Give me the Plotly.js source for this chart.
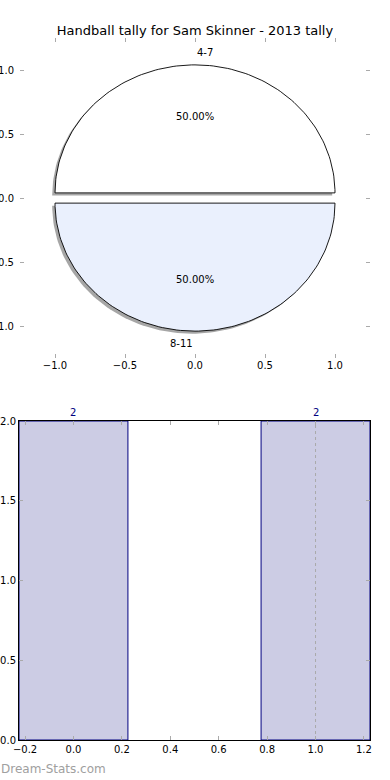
<!DOCTYPE html>
<html><head><meta charset="utf-8">
<script src="https://cdn.plot.ly/plotly-3.0.1.min.js"></script>
<style>html,body{margin:0;padding:0;background:#fff}#chart{width:390px;height:780px}</style>
</head><body><div id="chart"></div>
<script>
// ---- data ----
const title = "Handball tally for Sam Skinner - 2013 tally";
const pieLabels = ["4-7", "8-11"];
const pieValues = [2, 2];
const pieColors = ["#ffffff", "#eaf0fd"];
const pieExplode = [0.04, 0.04];
const barX = [0, 1];
const barY = [2, 2];
const barText = ["2", "2"];
const refLineX = [1.0];
const watermark = "Dream-Stats.com";

const F = "DejaVu Sans, sans-serif";
const traces = [];
const annotations = [];
const total = pieValues.reduce((a,b)=>a+b,0);
function slicePts(t1, t2, cx, cy) {
  const xs=[cx], ys=[cy];
  const n=120;
  for (let k=0;k<=n;k++){const a=(t1+(t2-t1)*k/n)*Math.PI/180; xs.push(cx+Math.cos(a)); ys.push(cy+Math.sin(a));}
  xs.push(cx); ys.push(cy);
  return [xs, ys];
}
let cum = 0;
const sliceTraces = [], shadowTraces = [];
pieValues.forEach((v,i)=>{
  const t1 = cum/total*360, t2 = (cum+v)/total*360; cum += v;
  const mid = (t1+t2)/2*Math.PI/180;
  const cx = pieExplode[i]*Math.cos(mid), cy = pieExplode[i]*Math.sin(mid);
  const [xs,ys] = slicePts(t1,t2,cx,cy);
  shadowTraces.push({type:'scatter',mode:'lines',x:xs.map(x=>x-0.02),y:ys.map(y=>y-0.02),fill:'toself',
    fillcolor:'rgba(77,77,77,0.5)',line:{width:0},xaxis:'x',yaxis:'y',hoverinfo:'skip',showlegend:false});
  sliceTraces.push({type:'scatter',mode:'lines',x:xs,y:ys,fill:'toself',fillcolor:pieColors[i],
    line:{color:'#000',width:0.9},xaxis:'x',yaxis:'y',hoverinfo:'skip',showlegend:false});
  const lx = cx + 1.1*Math.cos(mid), ly = cy + 1.1*Math.sin(mid);
  annotations.push({x:lx,y:ly,xref:'x',yref:'y',text:pieLabels[i],showarrow:false,
    xanchor: Math.cos(mid)>=0 ? 'left':'right', yanchor:'middle', font:{family:F,size:10,color:'#000'}});
  const px = cx + 0.6*Math.cos(mid), py = cy + 0.6*Math.sin(mid);
  annotations.push({x:px,y:py,xref:'x',yref:'y',text:(v/total*100).toFixed(2)+'%',showarrow:false,
    xanchor:'center',yanchor:'middle',font:{family:F,size:10,color:'#000'}});
});
traces.push(...shadowTraces, ...sliceTraces);

traces.push({type:'bar',x:barX,y:barY,width:0.45,xaxis:'x2',yaxis:'y2',
  marker:{color:'#ccccE4',line:{color:'#000080',width:1}},hoverinfo:'skip',showlegend:false});
barX.forEach((x,i)=>{
  annotations.push({x:x,y:barY[i],xref:'x2',yref:'y2',text:barText[i],showarrow:false,
    yanchor:'bottom',yshift:1,font:{family:F,size:10,color:'#000080'}});
});
annotations.push({x:0,y:0,xref:'paper',yref:'paper',xanchor:'left',yanchor:'bottom',yshift:2,xshift:-1,
  text:watermark,showarrow:false,font:{family:F,size:12,color:'#a0a0a0'}});

const shapes = refLineX.map(x=>({type:'line',xref:'x2',yref:'y2 domain',x0:x,x1:x,y0:0,y1:1,
  line:{color:'#aaaaaa',width:1,dash:'dot'},layer:'above'}));

const tickCommon = {ticks:'inside',ticklen:4,tickcolor:'#aaaaaa',tickwidth:1,showgrid:false,zeroline:false,
  tickfont:{family:F,size:10,color:'#000'},automargin:false};
const W=390,H=780;
const layout = {
  width:W,height:H,margin:{l:0,r:0,t:0,b:0},paper_bgcolor:'#fff',plot_bgcolor:'rgba(0,0,0,0)',
  showlegend:false,
  title:{text:title,font:{family:F,size:13,color:'#000'},x:0.5,xanchor:'center',y:1-30/H,yanchor:'middle'},
  xaxis:Object.assign({},tickCommon,{domain:[20/W,370/W],range:[-1.25,1.25],tickvals:[-1,-0.5,0,0.5,1],
    tickformat:'.1f',showline:false,mirror:'ticks',anchor:'y'}),
  yaxis:Object.assign({},tickCommon,{domain:[1-358/H,1-38/H],range:[-1.25,1.25],tickvals:[-1,-0.5,0,0.5,1],
    tickformat:'.1f',showline:false,mirror:'ticks',anchor:'x',ticklabelstandoff:5}),
  xaxis2:Object.assign({},tickCommon,{domain:[19/W,370/W],range:[-0.225,1.225],dtick:0.2,tick0:0,
    tickformat:'.1f',showline:true,linecolor:'#000',linewidth:1,mirror:'ticks',anchor:'y2'}),
  yaxis2:Object.assign({},tickCommon,{domain:[1-740/H,1-421/H],range:[0,2],dtick:0.5,tick0:0,
    tickformat:'.1f',showline:true,linecolor:'#000',linewidth:1,mirror:'ticks',anchor:'x2'}),
  annotations:annotations,shapes:shapes
};
Plotly.newPlot('chart',traces,layout,{displayModeBar:false,staticPlot:true});
</script></body></html>
